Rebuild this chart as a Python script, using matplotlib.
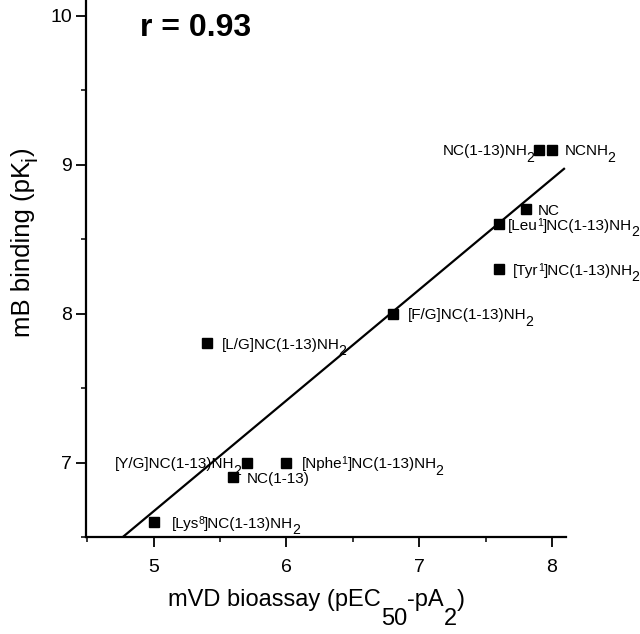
import numpy as np
import matplotlib
matplotlib.use("Agg")
import matplotlib.pyplot as plt
from matplotlib.ticker import MultipleLocator

plt.rcParams['font.family'] = ['Liberation Sans', 'DejaVu Sans']

# ---------------- data ----------------
# each label is a list of (text, kind) segments: 'n' normal, 'sub' subscript, 'sup' superscript
labels = [
    [("[Lys", 'n'), ("8", 'sup'), ("]NC(1-13)NH", 'n'), ("2", 'sub')],
    [("[Y/G]NC(1-13)NH", 'n'), ("2", 'sub')],
    [("NC(1-13)", 'n')],
    [("[Nphe", 'n'), ("1", 'sup'), ("]NC(1-13)NH", 'n'), ("2", 'sub')],
    [("[L/G]NC(1-13)NH", 'n'), ("2", 'sub')],
    [("[F/G]NC(1-13)NH", 'n'), ("2", 'sub')],
    [("[Tyr", 'n'), ("1", 'sup'), ("]NC(1-13)NH", 'n'), ("2", 'sub')],
    [("[Leu", 'n'), ("1", 'sup'), ("]NC(1-13)NH", 'n'), ("2", 'sub')],
    [("NC", 'n')],
    [("NC(1-13)NH", 'n'), ("2", 'sub')],
    [("NCNH", 'n'), ("2", 'sub')],
]
x_vals = [5.0, 5.7, 5.6, 6.0, 5.4, 6.8, 7.6, 7.6, 7.8, 7.9, 8.0]
y_vals = [6.6, 7.0, 6.9, 7.0, 7.8, 8.0, 8.3, 8.6, 8.7, 9.1, 9.1]
x_ticks = [5, 6, 7, 8]
y_ticks = [7, 8, 9, 10]
xlabel_parts = [("mVD bioassay (pEC", 'n'), ("50", 'sub'), ("-pA", 'n'), ("2", 'sub'), (")", 'n')]
ylabel_parts = [("mB binding (pK", 'n'), ("i", 'sub'), (")", 'n')]

# label placement: (dx pixels from point, dy pixels, side)
placement = [(18, 0, 'left'), (-6, 0, 'right'), (13, 0, 'left'), (15, 0, 'left'),
             (15, 0, 'left'), (15, 0, 'left'), (14, 0, 'left'), (9, 0, 'left'),
             (12, 0, 'left'), (-5, 0, 'right'), (13, 0, 'left')]

W, H = 640, 634
fig = plt.figure(figsize=(W/100, H/100), dpi=100)
ax = fig.add_axes([86/W, 1-537/H, 480/W, 537/H])


def seg_style(kind, fs, sub_drop, sup_rise, sub_scale):
    if kind == 'sub':
        return fs*sub_scale, -sub_drop
    if kind == 'sup':
        return fs*0.68, sup_rise
    return fs, 0.0


def rich_h(segs, xy, coords, fs, side='left', dx=0, dy=0, sub_drop=6.5, sup_rise=4.0,
           sub_scale=0.92, gap=0.0):
    """chain text pieces horizontally; offsets in pixels"""
    order = segs if side == 'left' else segs[::-1]
    sgn = 1 if side == 'left' else -1
    prev = None
    prev_kind = None
    for txt, kind in order:
        size, shift = seg_style(kind, fs, sub_drop, sup_rise, sub_scale)
        if prev is None:
            a = ax.annotate(txt, xy=xy, xycoords=coords, xytext=(dx, dy + shift),
                            textcoords='offset pixels', ha=side, va='baseline',
                            fontsize=size, annotation_clip=False, zorder=5)
        else:
            g = gap
            if kind == 'sup':
                g -= 0.5
            if kind == 'sub' or prev_kind == 'sub':
                g -= 1.5
            a = ax.annotate(txt, xy=(1 if side == 'left' else 0, xy[1]),
                            xycoords=(prev, coords), xytext=(sgn * g, dy + shift),
                            textcoords='offset pixels', ha=side, va='baseline',
                            fontsize=size, annotation_clip=False, zorder=5)
        prev = a
        prev_kind = kind
    return prev


def rich_v(segs, xy, fs, sub_drop=6.0, sub_scale=0.85):
    """chain rotated (90 deg) text pieces upward; xy in figure pixels (baseline x, start y)"""
    prev = None
    for txt, kind in segs:
        size = fs * sub_scale if kind == 'sub' else fs
        shift = -sub_drop if kind == 'sub' else 0
        if prev is None:
            a = ax.annotate(txt, xy=xy, xycoords='figure pixels', xytext=(-shift, 0),
                            textcoords='offset pixels', ha='left', va='baseline',
                            rotation=90, rotation_mode='anchor', fontsize=size,
                            annotation_clip=False)
        else:
            a = ax.annotate(txt, xy=(xy[0], 1), xycoords=('figure pixels', prev),
                            xytext=(-shift, 0), textcoords='offset pixels',
                            ha='left', va='baseline', rotation=90,
                            rotation_mode='anchor', fontsize=size, annotation_clip=False)
        prev = a


x = np.array(x_vals); y = np.array(y_vals)
slope, intercept = np.polyfit(x, y, 1)
r = np.corrcoef(x, y)[0, 1]
xl = np.array([4.7, 8.09])
ax.plot(xl, slope*xl + intercept, color='black', lw=1.6, zorder=2)
ax.plot(x, y, 's', color='black', ms=7, zorder=3)

for xi, yi, segs, (dx, dy, side) in zip(x, y, labels, placement):
    rich_h(segs, (xi, yi), 'data', 11, side=side, dx=dx, dy=dy - 5.5)

ax.text(0.1125, 0.976, f"r = {r:.2f}", transform=ax.transAxes, ha='left', va='top',
        fontsize=23, fontweight='bold')

ax.set_xlim(4.49, 8.105)
ax.set_ylim(6.5, 10.107)
ax.set_xticks(x_ticks)
ax.set_yticks(y_ticks)
ax.xaxis.set_minor_locator(MultipleLocator(0.5))
ax.yaxis.set_minor_locator(MultipleLocator(0.5))
for s in ['top', 'right']:
    ax.spines[s].set_visible(False)
for s in ['left', 'bottom']:
    ax.spines[s].set_linewidth(1.6)
ax.tick_params(which='major', direction='out', length=7, width=1.3, labelsize=14)
ax.tick_params(axis='x', which='major', pad=9)
ax.tick_params(axis='y', which='major', pad=3)
ax.tick_params(which='minor', direction='out', length=3.5, width=1.1)

# axis labels built from pieces (large, strongly lowered subscripts as in the source)
rich_h(xlabel_parts, (168, H - 606), 'figure pixels', 17, side='left', sub_drop=19,
       sub_scale=1.0, gap=1.5)
rich_v(ylabel_parts, (30, H - 337), 18.5, sub_drop=7)

fig.savefig("out.png", dpi=100)
